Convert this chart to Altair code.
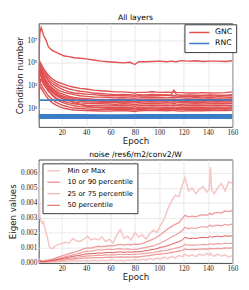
import altair as alt
import pandas as pd

RED = "#e05252"
BLUE = "#3d7cc6"

# ---------------- top panel: condition numbers (log10 values) ----------------
EP_TOP = [1, 2, 3, 4, 5, 7, 9, 12, 15, 18, 22, 26, 30, 35, 40, 46, 52, 58, 64, 70,
          76, 80, 83, 88, 94, 100, 106, 110, 112, 114, 118, 124, 130, 136, 142, 148, 154, 160]

GNC_LOG = [
    [5.3, 7.6, 8.1, 7.8, 7.4, 7.0, 6.4, 6.1, 5.95, 5.8, 5.6, 5.55, 5.45, 5.4, 5.35, 5.25, 5.15, 5.1, 5.05, 5.0,
     5.05, 4.85, 5.1, 5.1, 5.12, 5.15, 5.1, 5.15, 5.12, 5.1, 5.2, 5.15, 5.18, 5.12, 5.15, 5.15, 5.12, 5.18],
    [4.6, 5.0, 4.9, 4.7, 4.5, 4.2, 3.9, 3.6, 3.4, 3.25, 3.1, 2.95, 2.85, 2.75, 2.7, 2.6, 2.55, 2.5, 2.45, 2.45,
     2.4, 2.35, 2.4, 2.4, 2.45, 2.4, 2.42, 2.4, 2.45, 2.4, 2.38, 2.35, 2.35, 2.38, 2.35, 2.36, 2.38, 2.45],
    [4.3, 4.8, 4.7, 4.5, 4.3, 4.0, 3.7, 3.4, 3.2, 3.0, 2.85, 2.7, 2.6, 2.5, 2.45, 2.35, 2.3, 2.25, 2.2, 2.22,
     2.2, 2.15, 2.2, 2.18, 2.22, 2.2, 2.18, 2.2, 2.6, 2.2, 2.15, 2.18, 2.15, 2.15, 2.18, 2.15, 2.15, 2.2],
    [3.9, 4.6, 4.5, 4.3, 4.1, 3.8, 3.5, 3.2, 3.0, 2.8, 2.6, 2.45, 2.35, 2.3, 2.25, 2.2, 2.15, 2.1, 2.12, 2.1,
     2.08, 2.05, 2.1, 2.08, 2.1, 2.12, 2.15, 2.1, 2.12, 2.08, 2.05, 2.08, 2.05, 2.08, 2.1, 2.05, 2.08, 2.1],
    [4.8, 5.1, 4.8, 4.5, 4.2, 3.8, 3.4, 3.0, 2.75, 2.55, 2.4, 2.3, 2.2, 2.1, 2.05, 2.0, 1.98, 1.95, 1.92, 1.95,
     1.9, 1.88, 1.92, 1.95, 1.98, 1.95, 1.92, 1.95, 1.98, 1.95, 1.92, 1.9, 1.95, 1.92, 1.95, 1.9, 1.92, 1.95],
    [3.6, 4.2, 4.1, 3.9, 3.7, 3.4, 3.1, 2.8, 2.55, 2.35, 2.2, 2.05, 1.95, 1.9, 1.85, 1.8, 1.78, 1.75, 1.78, 1.8,
     1.75, 1.72, 1.78, 1.8, 1.82, 1.8, 1.78, 1.8, 1.82, 1.78, 1.75, 1.8, 1.78, 1.8, 1.82, 1.78, 1.8, 1.82],
    [4.0, 4.5, 4.3, 4.0, 3.7, 3.3, 2.95, 2.6, 2.4, 2.2, 2.05, 1.95, 1.85, 1.8, 1.75, 1.72, 1.7, 1.68, 1.65, 1.7,
     1.68, 1.62, 1.7, 1.72, 1.7, 1.68, 1.7, 1.72, 1.7, 1.68, 1.65, 1.7, 1.72, 1.68, 1.7, 1.72, 1.7, 1.72],
    [3.3, 3.9, 3.8, 3.6, 3.4, 3.1, 2.8, 2.5, 2.25, 2.05, 1.9, 1.78, 1.7, 1.62, 1.58, 1.55, 1.52, 1.5, 1.52, 1.55,
     1.5, 1.48, 1.52, 1.55, 1.58, 1.55, 1.52, 1.55, 1.58, 1.55, 1.5, 1.52, 1.55, 1.52, 1.55, 1.58, 1.55, 1.55],
    [3.8, 4.4, 4.2, 3.9, 3.6, 3.2, 2.85, 2.45, 2.15, 1.95, 1.78, 1.65, 1.55, 1.48, 1.45, 1.42, 1.4, 1.38, 1.35, 1.4,
     1.38, 1.32, 1.38, 1.4, 1.42, 1.4, 1.38, 1.4, 1.42, 1.38, 1.35, 1.38, 1.4, 1.38, 1.4, 1.42, 1.4, 1.42],
    [3.0, 3.6, 3.5, 3.3, 3.1, 2.8, 2.5, 2.2, 1.95, 1.75, 1.6, 1.48, 1.4, 1.32, 1.28, 1.25, 1.22, 1.2, 1.22, 1.25,
     1.22, 1.18, 1.22, 1.25, 1.28, 1.25, 1.22, 1.25, 1.28, 1.25, 1.2, 1.22, 1.25, 1.22, 1.25, 1.28, 1.25, 1.25],
    [3.5, 4.1, 3.9, 3.6, 3.3, 2.9, 2.55, 2.15, 1.85, 1.62, 1.45, 1.32, 1.22, 1.15, 1.12, 1.1, 1.08, 1.05, 1.08, 1.1,
     1.05, 1.02, 1.08, 1.1, 1.12, 1.1, 1.08, 1.1, 1.12, 1.08, 1.05, 1.08, 1.1, 1.08, 1.1, 1.12, 1.1, 1.12],
    [2.6, 3.2, 3.1, 2.9, 2.7, 2.4, 2.1, 1.8, 1.55, 1.38, 1.22, 1.1, 1.02, 0.98, 0.95, 0.92, 0.9, 0.88, 0.9, 0.92,
     0.88, 0.85, 0.9, 0.92, 0.95, 0.92, 0.9, 0.92, 0.95, 0.92, 0.88, 0.9, 0.92, 0.9, 0.92, 0.95, 0.92, 0.95],
    [2.2, 2.9, 2.8, 2.6, 2.4, 2.1, 1.8, 1.5, 1.3, 1.15, 1.0, 0.92, 0.85, 0.82, 0.8, 0.78, 0.76, 0.75, 0.78, 0.8,
     0.76, 0.72, 0.78, 0.8, 0.82, 0.8, 0.78, 0.8, 0.82, 0.78, 0.75, 0.78, 0.8, 0.78, 0.8, 0.82, 0.8, 0.82],
    [1.8, 3.2, 3.6, 3.5, 3.3, 3.0, 2.7, 2.4, 2.2, 2.05, 1.92, 1.82, 1.75, 1.7, 1.68, 1.65, 1.62, 1.6, 1.62, 1.65,
     1.6, 1.58, 1.62, 1.65, 1.68, 1.65, 1.62, 1.65, 1.68, 1.65, 1.6, 1.62, 1.65, 1.62, 1.65, 1.68, 1.65, 1.68],
    [4.2, 4.7, 4.5, 4.2, 3.9, 3.5, 3.1, 2.7, 2.4, 2.15, 1.9, 1.7, 1.5, 1.35, 1.2, 1.1, 1.05, 1.0, 0.98, 1.0,
     0.98, 0.95, 1.0, 1.02, 1.0, 0.98, 1.0, 1.02, 1.0, 0.98, 0.95, 0.98, 1.0, 0.98, 1.0, 1.02, 1.0, 1.0],
]

EP_RNC = [1, 30, 60, 90, 120, 160]
RNC_LOG = [
    [1.72, 1.70, 1.72, 1.71, 1.72, 1.73],
    [0.42, 0.42, 0.41, 0.42, 0.42, 0.42],
    [0.35, 0.35, 0.35, 0.34, 0.35, 0.35],
    [0.28, 0.28, 0.28, 0.28, 0.27, 0.28],
    [0.20, 0.20, 0.21, 0.20, 0.20, 0.20],
    [0.12, 0.12, 0.12, 0.12, 0.12, 0.13],
]

# ---------------- bottom panel: eigen value percentiles (x 1e-3) ----------------
EP_B = [1, 2, 3, 4, 5, 6, 8, 10, 12, 14, 17, 20, 23, 26, 29, 32, 35, 38, 41, 44,
        47, 50, 53, 56, 59, 62, 65, 68, 71, 74, 77, 80, 83, 86, 89, 92, 95, 98, 101, 104,
        107, 110, 113, 116, 119, 121, 124, 127, 130, 133, 136, 139, 141, 142, 143, 145, 148, 151, 154, 157, 160]

EIG_MAX = [6.8, 3.0, 2.8, 2.6, 2.7, 2.3, 1.7, 1.0, 0.9, 1.05, 1.2, 1.25, 1.35, 1.3, 1.6, 1.45, 1.4, 1.55, 1.75, 1.5,
           1.6, 1.5, 1.7, 1.4, 1.55, 1.3, 1.8, 2.2, 1.6, 1.75, 1.5, 2.0, 1.7, 1.85, 1.55, 1.9, 2.15, 2.0, 2.5, 2.9,
           3.6, 4.1, 4.5, 4.4, 5.2, 5.7, 4.8, 5.0, 4.6, 4.9, 5.1, 4.7, 4.9, 6.4, 4.9, 4.6, 5.0, 5.3, 4.8, 5.4, 5.3]
EIG_P90 = [0.3, 0.15, 0.1, 0.1, 0.1, 0.12, 0.15, 0.18, 0.22, 0.27, 0.35, 0.43, 0.5, 0.58, 0.65, 0.72, 0.8, 0.9, 0.97, 0.95,
           1.02, 1.08, 1.05, 1.08, 1.12, 1.1, 1.15, 1.2, 1.15, 1.2, 1.18, 1.22, 1.2, 1.25, 1.35, 1.45, 1.55, 1.7, 1.85, 2.05,
           2.25, 2.4, 2.55, 2.65, 2.95, 3.15, 3.05, 3.1, 3.05, 3.15, 3.2, 3.15, 3.25, 3.3, 3.2, 3.3, 3.35, 3.3, 3.45, 3.4, 3.48]
EIG_P75 = [0.2, 0.1, 0.07, 0.07, 0.07, 0.08, 0.1, 0.13, 0.16, 0.2, 0.26, 0.32, 0.38, 0.44, 0.5, 0.56, 0.62, 0.7, 0.75, 0.74,
           0.8, 0.84, 0.82, 0.86, 0.88, 0.86, 0.9, 0.92, 0.88, 0.9, 0.86, 0.88, 0.9, 0.95, 1.0, 1.05, 1.1, 1.2, 1.3, 1.42,
           1.55, 1.7, 1.82, 1.95, 2.15, 2.35, 2.25, 2.3, 2.28, 2.35, 2.4, 2.35, 2.45, 2.5, 2.4, 2.45, 2.5, 2.45, 2.55, 2.5, 2.58]
EIG_P50 = [0.15, 0.07, 0.05, 0.05, 0.05, 0.06, 0.08, 0.1, 0.12, 0.15, 0.2, 0.26, 0.3, 0.35, 0.4, 0.44, 0.48, 0.53, 0.58, 0.57,
           0.6, 0.63, 0.62, 0.65, 0.66, 0.64, 0.68, 0.7, 0.67, 0.7, 0.68, 0.71, 0.7, 0.74, 0.78, 0.82, 0.86, 0.92, 1.0, 1.05,
           1.12, 1.2, 1.3, 1.38, 1.5, 1.68, 1.6, 1.62, 1.6, 1.65, 1.68, 1.65, 1.7, 1.75, 1.68, 1.72, 1.76, 1.72, 1.78, 1.75, 1.78]
EIG_P25 = [0.1, 0.05, 0.04, 0.04, 0.04, 0.05, 0.06, 0.08, 0.09, 0.11, 0.15, 0.19, 0.23, 0.27, 0.3, 0.34, 0.37, 0.4, 0.43, 0.43,
           0.46, 0.48, 0.47, 0.5, 0.51, 0.5, 0.52, 0.54, 0.52, 0.54, 0.52, 0.55, 0.54, 0.58, 0.6, 0.63, 0.66, 0.7, 0.75, 0.78,
           0.82, 0.88, 0.94, 1.0, 1.08, 1.2, 1.15, 1.16, 1.15, 1.18, 1.2, 1.18, 1.22, 1.24, 1.2, 1.22, 1.25, 1.23, 1.28, 1.26, 1.29]
EIG_P10 = [0.06, 0.03, 0.03, 0.03, 0.03, 0.035, 0.04, 0.05, 0.06, 0.08, 0.11, 0.14, 0.17, 0.2, 0.22, 0.24, 0.26, 0.28, 0.3, 0.3,
           0.31, 0.32, 0.31, 0.33, 0.34, 0.33, 0.35, 0.36, 0.34, 0.36, 0.35, 0.37, 0.36, 0.4, 0.43, 0.46, 0.5, 0.53, 0.56, 0.58,
           0.62, 0.66, 0.7, 0.75, 0.8, 0.88, 0.85, 0.86, 0.86, 0.88, 0.9, 0.88, 0.91, 0.93, 0.9, 0.92, 0.94, 0.92, 0.96, 0.95, 0.97]
EIG_MIN = [0.02, 0.01, 0.01, 0.01, 0.01, 0.01, 0.02, 0.02, 0.03, 0.03, 0.04, 0.06, 0.07, 0.08, 0.1, 0.09, 0.11, 0.1, 0.12, 0.1,
           0.13, 0.11, 0.14, 0.1, 0.13, 0.15, 0.11, 0.14, 0.1, 0.16, 0.12, 0.18, 0.12, 0.2, 0.15, 0.25, 0.18, 0.28, 0.22, 0.35,
           0.25, 0.4, 0.3, 0.45, 0.38, 0.55, 0.42, 0.5, 0.38, 0.55, 0.45, 0.6, 0.48, 0.62, 0.5, 0.4, 0.55, 0.42, 0.5, 0.35, 0.45]

GROUPS = ["Min or Max", "10 or 90 percentile", "25 or 75 percentile", "50 percentile"]
GROUP_COLORS = ["#f6c6c6", "#ef9c9c", "#eea0a0", "#dc5050"]
GROUP_WIDTHS = [1.6, 1.0, 1.8, 1.2]

# ---------------- build tables ----------------
rows = []
for i, s in enumerate(GNC_LOG):
    assert len(s) == len(EP_TOP)
    for e, v in zip(EP_TOP, s):
        rows.append({"epoch": e, "val": 10 ** v, "s": f"g{i:02d}", "kind": "GNC"})
gnc_df = pd.DataFrame(rows)
rows = []
for i, s in enumerate(RNC_LOG):
    for e, v in zip(EP_RNC, s):
        rows.append({"epoch": e, "val": 10 ** v, "s": f"r{i:02d}", "kind": "RNC"})
rnc_df = pd.DataFrame(rows)

series_b = [(EIG_MAX, 0), (EIG_MIN, 0), (EIG_P90, 1), (EIG_P10, 1), (EIG_P75, 2), (EIG_P25, 2), (EIG_P50, 3)]
rows = []
for k, (s, g) in enumerate(series_b):
    assert len(s) == len(EP_B)
    for e, v in zip(EP_B, s):
        rows.append({"epoch": e, "val": v / 1000.0, "s": f"b{k}", "grp": GROUPS[g], "o": g})
eig_df = pd.DataFrame(rows)

W = 202
SANS = "DejaVu Sans"
SERIF = "Liberation Serif"
XTICKS = [20, 40, 60, 80, 100, 120, 140, 160]

def x_enc():
    return alt.X("epoch:Q", scale=alt.Scale(domain=[1, 160], nice=False, zero=False),
                 axis=alt.Axis(values=XTICKS, title="Epoch", format="d"))

color_top = alt.Color("kind:N", scale=alt.Scale(domain=["GNC", "RNC"], range=[RED, BLUE]),
                      legend=alt.Legend(title=None, orient="none", legendX=152, legendY=1,
                                        symbolType="stroke", symbolSize=440, symbolStrokeWidth=1.5,
                                        labelFontSize=8, labelFont=SANS, labelOffset=5,
                                        strokeColor="#333333", fillColor="white", padding=4,
                                        rowPadding=2.5, clipHeight=9, cornerRadius=0))
y_top = alt.Y("val:Q",
              scale=alt.Scale(type="log", domain=[0.23, 3e8], nice=False),
              axis=alt.Axis(values=[10, 1000, 100000, 10000000], title="Condition number",
                            labelExpr="datum.value < 100 ? '10¹' : datum.value < 10000 ? '10³' : datum.value < 1000000 ? '10⁵' : '10⁷'"))

red = alt.Chart(gnc_df).mark_line(strokeWidth=1.45, clip=True).encode(
    x=x_enc(), y=y_top, color=color_top, detail="s:N")
blue = alt.Chart(rnc_df).mark_line(strokeWidth=1.6, clip=True).encode(
    x=x_enc(), y=y_top, color=color_top, detail="s:N")
top = alt.layer(red, blue).properties(
    width=W, height=108,
    title=alt.Title("All layers", fontSize=8, font=SANS, fontWeight="normal", offset=1))

bot_legend = alt.Legend(title=None, orient="none", legendX=4, legendY=4,
                        symbolType="stroke", symbolSize=169,
                        labelFontSize=7.2, labelFont=SANS, labelOffset=7,
                        strokeColor="#333333", fillColor="white", padding=4,
                        rowPadding=3, clipHeight=7.5, cornerRadius=0)
bot = alt.Chart(eig_df).mark_line(clip=True).encode(
    x=x_enc(),
    y=alt.Y("val:Q", scale=alt.Scale(domain=[-0.00005, 0.0069], nice=False, zero=False),
            axis=alt.Axis(values=[0, 0.001, 0.002, 0.003, 0.004, 0.005, 0.006], format=".3f",
                          title="Eigen values")),
    color=alt.Color("grp:N", scale=alt.Scale(domain=GROUPS, range=GROUP_COLORS), legend=bot_legend),
    strokeWidth=alt.StrokeWidth("grp:N", scale=alt.Scale(domain=GROUPS, range=GROUP_WIDTHS), legend=bot_legend),
    detail="s:N",
    order=alt.Order("o:Q"),
).properties(
    width=W, height=108,
    title=alt.Title("noise /res6/m2/conv2/W", fontSize=8, font=SANS, fontWeight="normal", offset=1))

chart = alt.vconcat(top, bot, spacing=4).resolve_scale(
    color="independent", strokeWidth="independent", y="independent"
).resolve_legend(
    color="independent", strokeWidth="independent"
).properties(
    padding={"left": 0, "top": 0, "right": 2, "bottom": 0}
).configure_view(
    stroke="#444444", strokeWidth=1
).configure_axis(
    grid=True, gridColor="#e4e4e4", gridWidth=0.8, domain=False, ticks=False,
    labelFont=SERIF, labelFontSize=7.5, labelColor="#222222", labelPadding=2,
    titleFont=SANS, titleFontSize=9, titleFontWeight="normal", titleColor="#222222", titlePadding=3,
    labelFlush=False, labelOverlap=False
).configure_axisX(
    titlePadding=1
)

chart.save("out.html", embed_options={"renderer": "svg", "actions": False})
